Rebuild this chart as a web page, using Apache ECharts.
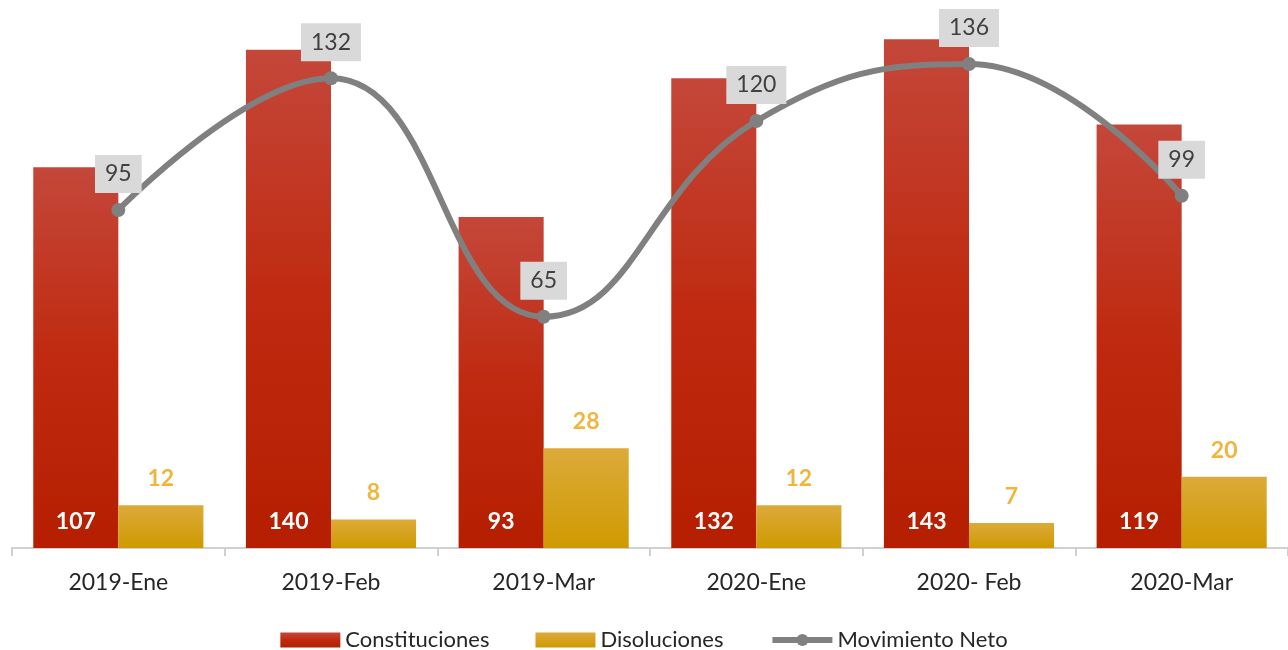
<!DOCTYPE html>
<html>
<head>
<meta charset="utf-8">
<script src="https://cdn.jsdelivr.net/npm/echarts@6/dist/echarts.min.js"></script>
<style>html,body{margin:0;padding:0;background:#fff}#c{width:1288px;height:650px}</style>
</head>
<body>
<div id="c"></div>
<script>
const categories = ['2019-Ene', '2019-Feb', '2019-Mar', '2020-Ene', '2020- Feb', '2020-Mar'];
const constituciones = [107, 140, 93, 132, 143, 119];
const disoluciones = [12, 8, 28, 12, 7, 20];
const movimientoNeto = [95, 132, 65, 120, 136, 99];

const FONT = 'Lato, "DejaVu Sans", sans-serif';
const chart = echarts.init(document.getElementById('c'));
chart.setOption({
  animation: false,
  textStyle: { fontFamily: FONT },
  grid: { left: 12, right: -3, top: 0, bottom: 102, containLabel: false },
  legend: {
    top: 624,
    left: 'center',
    itemWidth: 60,
    itemHeight: 15,
    itemGap: 46,
    textStyle: { fontSize: 22, color: '#262626', fontFamily: FONT },
    data: [
      { name: 'Constituciones', icon: 'rect' },
      { name: 'Disoluciones', icon: 'rect' },
      { name: 'Movimiento Neto', lineStyle: { width: 6, color: '#808080' }, itemStyle: { color: '#808080' } }
    ]
  },
  xAxis: {
    type: 'category',
    data: categories,
    axisLine: { lineStyle: { color: '#d0d0d0', width: 2 } },
    axisTick: { show: true, length: 8, lineStyle: { color: '#d0d0d0', width: 2 } },
    axisLabel: { fontSize: 23, color: '#262626', margin: 23, fontFamily: FONT }
  },
  yAxis: { type: 'value', min: 0, max: 154, show: false, splitLine: { show: false } },
  series: [
    {
      name: 'Constituciones',
      type: 'bar',
      data: constituciones,
      barGap: '0%',
      barCategoryGap: '20%',
      itemStyle: {
        color: new echarts.graphic.LinearGradient(0, 0, 0, 1, [
          { offset: 0, color: '#c4473a' },
          { offset: 0.5, color: '#bf2a10' },
          { offset: 1, color: '#b51e00' }
        ])
      },
      label: { show: true, position: 'insideBottom', distance: 15, color: '#ffffff', fontSize: 23, fontWeight: 'bold', fontFamily: FONT }
    },
    {
      name: 'Disoluciones',
      type: 'bar',
      data: disoluciones,
      itemStyle: {
        color: new echarts.graphic.LinearGradient(0, 0, 0, 1, [
          { offset: 0, color: '#dcaa3a' },
          { offset: 1, color: '#cf9a00' }
        ])
      },
      label: { show: true, position: 'top', distance: 15, color: '#f2b53c', fontSize: 23, fontWeight: 'bold', fontFamily: FONT }
    },
    {
      name: 'Movimiento Neto',
      type: 'line',
      data: movimientoNeto,
      smooth: 0.45,
      z: 5,
      symbol: 'circle',
      symbolSize: 14,
      lineStyle: { color: '#808080', width: 6 },
      itemStyle: { color: '#808080' },
      label: {
        show: true, position: 'top', distance: 10,
        color: '#404040', fontSize: 23, lineHeight: 24, fontFamily: FONT,
        backgroundColor: '#d9d9d9', padding: [7, 10, 7, 10]
      }
    }
  ]
});
</script>
</body>
</html>
